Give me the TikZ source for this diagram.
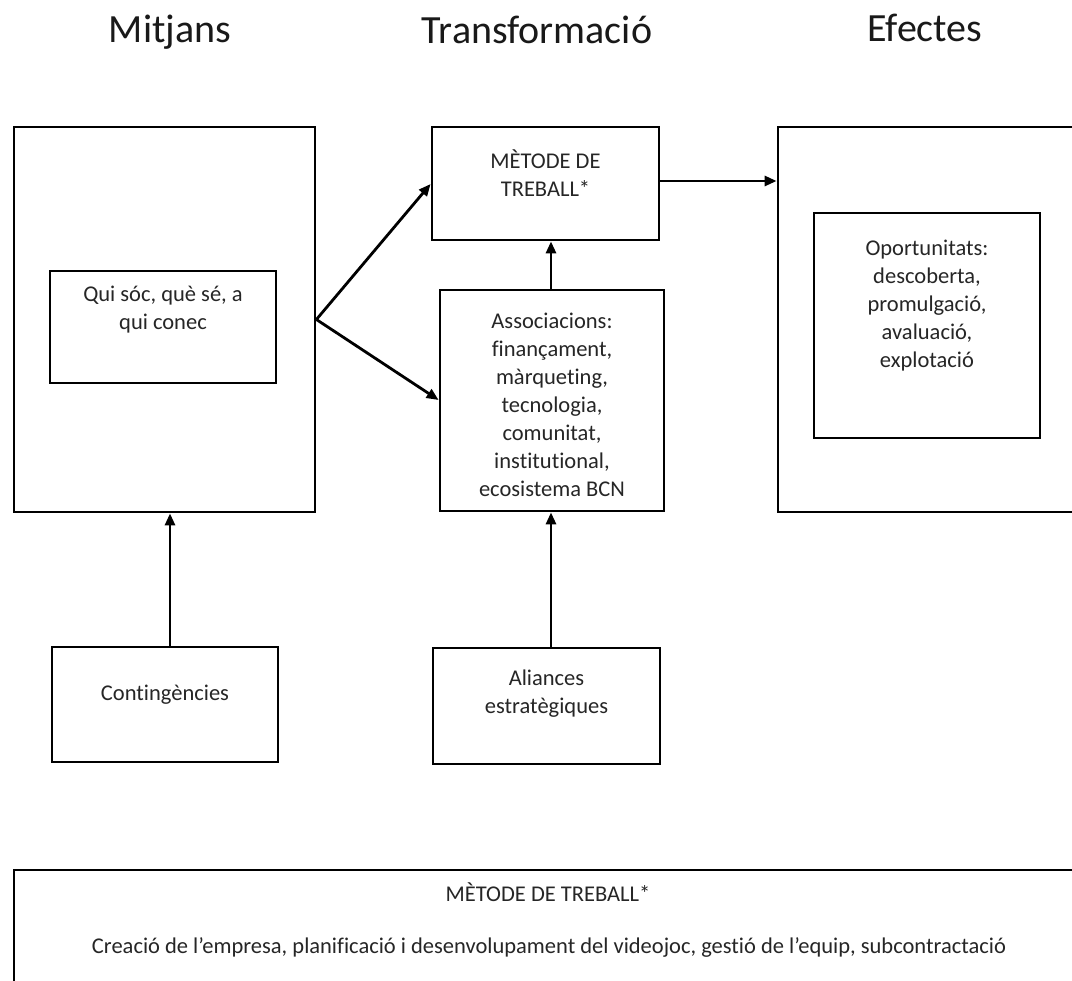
\documentclass[tikz,border=0pt]{standalone}
\usepackage{fontspec}
\setmainfont{Carlito}[Ligatures=NoCommon]
\usetikzlibrary{arrows.meta}
\tikzset{
  box/.style={draw=black, line width=2.8pt, fill=none, inner sep=0pt},
  txt/.style={align=center, font=\fontsize{22.5}{28}\selectfont, inner sep=0pt, text=black!85},
  ttl/.style={font=\fontsize{40}{46}\selectfont, inner sep=0pt, text=black!90},
  conn/.style={line width=2.8pt, -{Triangle[length=12pt,width=10pt]}}
}
\begin{document}
\begin{tikzpicture}[x=1pt,y=-1pt]
\useasboundingbox (0,0) rectangle (1072,981);
\clip (0,0) rectangle (1072,981);
\fill[white] (0,0) rectangle (1072,981);
% titles
\node[ttl] (t1) at (170,32) {Mitjans};
\node[ttl] (t2) at (537,30) {Transformació};
\node[ttl] (t3) at (925,28) {Efectes};
% boxes
\node[box, minimum width=301pt, minimum height=385pt] (mitjans) at (164.5,319.5) {};
\node[box, minimum width=226pt, minimum height=112pt] (qui) at (163,327) {};
\node[txt] (quit) at (163,310) {Qui sóc, què sé, a\\qui conec};
\node[box, minimum width=227pt, minimum height=113pt] (metode) at (545.5,183.5) {};
\node[txt] (metodet) at (545.5,173) {MÈTODE DE\\TREBALL*};
\node[box, minimum width=224pt, minimum height=221pt] (assoc) at (552,400.5) {};
\node[txt] (assoct) at (552,405) {Associacions:\\finançament,\\màrqueting,\\tecnologia,\\comunitat,\\institutional,\\ecosistema BCN};
\node[box, minimum width=320pt, minimum height=385pt] (efectes) at (938,319.5) {};
\node[box, minimum width=226pt, minimum height=225pt] (oport) at (927,325.5) {};
\node[txt] (oportt) at (927,306) {Oportunitats:\\descoberta,\\promulgació,\\avaluació,\\explotació};
\node[box, minimum width=226pt, minimum height=115pt] (conting) at (165,704.5) {};
\node[txt] (contingt) at (165,695) {Contingències};
\node[box, minimum width=227pt, minimum height=116pt] (alian) at (546.5,706) {};
\node[txt] (aliant) at (546.5,694) {Aliances\\estratègiques};
\node[box, minimum width=1070pt, minimum height=130pt] (bottom) at (549,935) {};
\node[txt] (bt1) at (548,892) {MÈTODE DE TREBALL*};
\node[txt] (bt2) at (549,947) {Creació de l’empresa, planificació i desenvolupament del videojoc, gestió de l’equip, subcontractació};
% connectors
\coordinate (split) at (mitjans.east);
\draw[conn] (split) -- (metode.west |- 0,184);
\draw[conn] (split) -- (assoc.west |- 0,400);
\draw[conn] (assoc.north -| 551,0) -- (metode.south -| 551,0);
\draw[conn] (metode.east |- 0,181) -- (efectes.west |- 0,181);
\draw[conn] (conting.north -| 170,0) -- (mitjans.south -| 170,0);
\draw[conn] (alian.north -| 551,0) -- (assoc.south -| 551,0);
\end{tikzpicture}
\end{document}
